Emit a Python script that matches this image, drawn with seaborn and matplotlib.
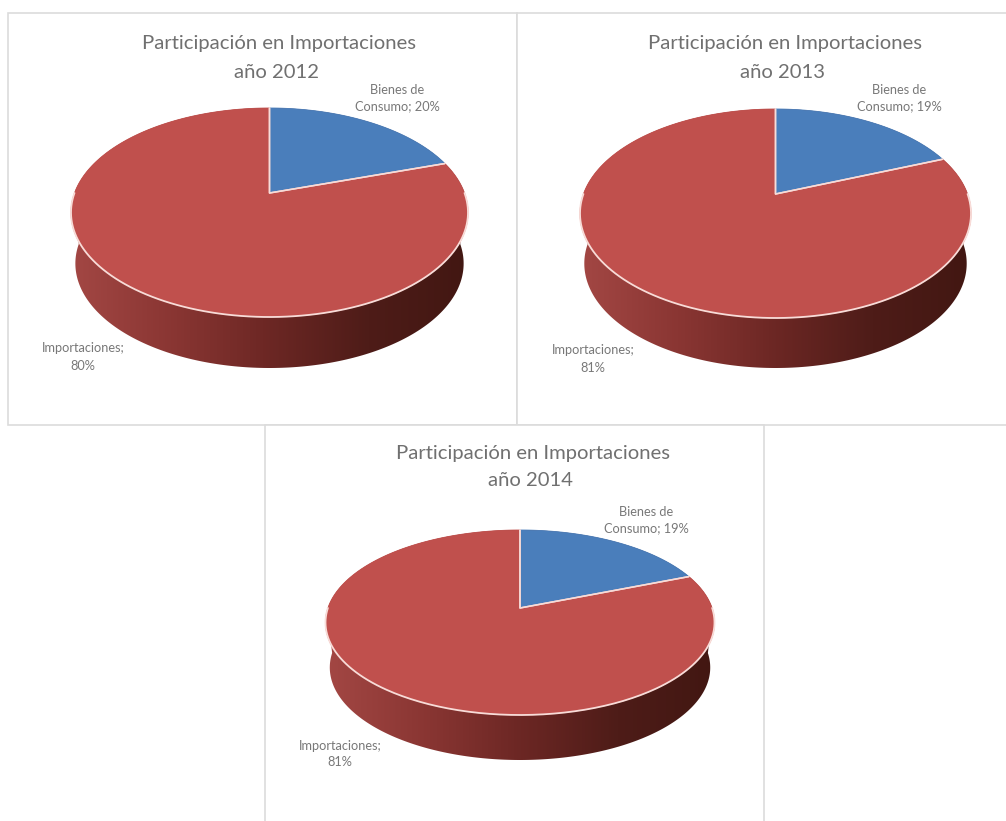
import numpy as np
import matplotlib
matplotlib.use("Agg")
import matplotlib.pyplot as plt
from matplotlib.colors import LinearSegmentedColormap
from matplotlib.patches import Polygon, Rectangle
import seaborn as sns

# data
years = ["2012", "2013", "2014"]
categories = ["Bienes de\nConsumo", "Importaciones"]
bienes_pct = [20, 19, 19]
importaciones_pct = [80, 81, 81]
title_line = "Participación en Importaciones"
year_prefix = "año "

colors = ["#4a7ebb", "#c0504d"]
text_grey = "#707070"
label_grey = "#787878"
frame_grey = "#dcdcdc"
rim_color = "#f8dcd8"
side_cmap = LinearSegmentedColormap.from_list(
    "side", ["#a34744", "#8a3633", "#6c2724", "#4e1c18", "#421712"])

# layout in image pixels
W, H = 1006, 821
frames = [(8, 13, 517, 425), (517, 13, 1010, 425), (265, 425, 764, 830)]
ellipses = [(71, 468, 108, 317), (580, 971, 109, 318), (326, 715, 530, 715)]
apexes = [(269.5, 193), (775.5, 194), (520, 608)]
depths = [51, 50, 45]
title_x = [279, 785, 533]
title_y1 = [43, 44, 453]
title_y2 = [72, 73, 481]
bienes_pos = [(397, 98), (899, 98), (646, 520)]
import_pos = [(83, 357), (593, 359), (340, 754)]
label_spacing = [1.5, 1.5, 1.35]

sns.set_theme(style="white")
plt.rcParams["font.family"] = ["Lato", "DejaVu Sans"]

fig = plt.figure(figsize=(W / 100, H / 100), dpi=100)
ax = fig.add_axes([0, 0, 1, 1])


def make_projection(ell, apex):
    # circle -> perspective ellipse, the pie centre stays at the apex
    left, right, top, bottom = ell
    up = apex[1] - top
    down = bottom - apex[1]
    k = (down - up) / (down + up)
    s = up * (1 + k)
    a = (right - left) / 2 * np.sqrt(1 - k ** 2)

    def project(pts):
        w = 1 + k * pts[:, 1]
        return np.column_stack([apex[0] + a * pts[:, 0] / w,
                                apex[1] - s * pts[:, 1] / w])
    return project


for i in range(3):
    x0, y0, x1, y1 = frames[i]
    ax.add_patch(Rectangle((x0, y0), x1 - x0, y1 - y0, fc="white",
                           ec=frame_grey, lw=1.2, zorder=1))

for i in range(3):
    project = make_projection(ellipses[i], apexes[i])
    left, right, top, bottom = ellipses[i]
    cx = (left + right) / 2
    depth = depths[i]

    # side of the cylinder
    t = np.linspace(np.pi, 2 * np.pi, 200)
    lower = project(np.column_stack([np.cos(t), np.sin(t)]))
    upper = project(np.column_stack([np.cos(t), -np.sin(t)]))
    lower_shift = lower.copy()
    lower_shift[:, 0] = cx + (lower[:, 0] - cx) * 0.978
    lower_shift[:, 1] += depth
    hull = np.vstack([upper[::-1], lower[:3], lower_shift, lower[-3:]])
    clip = Polygon(hull, closed=True, transform=ax.transData, fc="none", ec="none")
    ax.add_patch(clip)
    img = ax.imshow(np.linspace(0, 1, 256)[None, :], cmap=side_cmap, aspect="auto",
                    extent=(left, right, bottom + depth + 2, top), zorder=2)
    img.set_clip_path(clip)

    # pie wedges go through the projection
    wedges, _ = ax.pie([bienes_pct[i], importaciones_pct[i]], colors=colors,
                       startangle=90, counterclock=False, radius=1)
    for wedge in wedges:
        ang = np.deg2rad(np.linspace(wedge.theta1, wedge.theta2, 240))
        arc = np.column_stack([np.cos(ang), np.sin(ang)])
        pts = np.vstack([[0, 0], arc])
        face = wedge.get_facecolor()
        wedge.remove()
        ax.add_patch(Polygon(project(pts), closed=True, fc=face, ec=face,
                             lw=0.6, zorder=3))
        # light line on the two straight edges
        ax.plot(*project(np.array([arc[0], [0, 0], arc[-1]])).T, color=rim_color,
                lw=1.1, zorder=4)

    # light rim along the front of the top face
    ax.plot(lower[:, 0], lower[:, 1], color=rim_color, lw=1.3, zorder=4)

    ax.text(title_x[i], title_y1[i], title_line, ha="center", va="center",
            fontsize=14.6, color=text_grey, zorder=5)
    ax.text(title_x[i] - 2, title_y2[i], year_prefix + years[i], ha="center", va="center",
            fontsize=14.6, color=text_grey, zorder=5)
    ax.text(*bienes_pos[i], f"{categories[0]}; {bienes_pct[i]}%", ha="center",
            va="center", fontsize=9.2, color=label_grey,
            linespacing=label_spacing[i], zorder=5)
    ax.text(*import_pos[i], f"{categories[1]};\n{importaciones_pct[i]}%", ha="center",
            va="center", fontsize=9.2, color=label_grey,
            linespacing=label_spacing[i], zorder=5)

ax.set_aspect("auto")
ax.set_xlim(0, W)
ax.set_ylim(H, 0)
ax.axis("off")

fig.savefig("out.png", dpi=100)
